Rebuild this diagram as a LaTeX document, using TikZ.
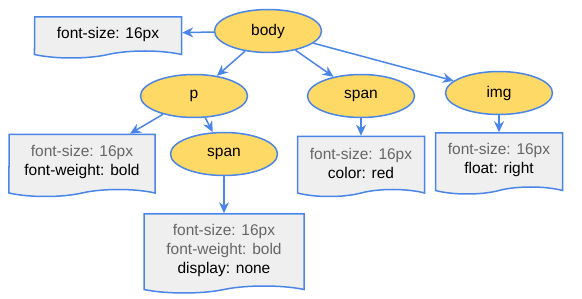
\documentclass[tikz,border=0pt]{standalone}
\usepackage{fontspec}
\setmainfont{Liberation Sans}
\usepackage{xcolor}
\definecolor{tagblue}{HTML}{4A86E8}
\definecolor{tagyellow}{HTML}{FFD966}
\definecolor{docgray}{HTML}{EFEFEF}
\definecolor{inhgray}{HTML}{666666}
\usetikzlibrary{shapes.geometric, shapes.symbols, arrows.meta}
\tikzset{
  tagnode/.style={
    ellipse, draw=tagblue, fill=tagyellow, line width=1.5pt,
    minimum width=107pt, minimum height=43pt, inner sep=0pt,
    font=\fontsize{15.5}{19}\selectfont
  },
  docnode/.style={
    tape, tape bend top=none, tape bend height=7pt,
    draw=tagblue, fill=docgray, line width=1.5pt,
    align=center, inner sep=0pt,
    font=\fontsize{15.5}{19}\selectfont
  },
  arrow/.style={line width=1.5pt, -{Stealth[length=11pt,width=10pt]}, color=tagblue},
}
\newcommand{\inh}[1]{\textcolor{inhgray}{#1}}

\begin{document}
\begin{tikzpicture}[x=1pt, y=-1pt]
  \useasboundingbox (0,0) rectangle (582,299);
  \node (body)    [tagnode] at (268,31)  {body};
  \node (p)       [tagnode] at (194,96)  {p};
  \node (spanA)   [tagnode] at (361,96)  {span};
  \node (img)     [tagnode] at (499,93)  {img};
  \node (spanB)   [tagnode] at (224,154) {span};

  \node (dbody)   [docnode, minimum width=147pt, minimum height=41pt] at (108,34)
    {font-size: 16px};
  \node (dp)      [docnode, minimum width=146pt, minimum height=62pt] at (82,162)
    {\inh{font-size: 16px}\\font-weight: bold};
  \node (dspanA)  [docnode, minimum width=127pt, minimum height=60pt] at (361,163)
    {\inh{font-size: 16px}\\color: red};
  \node (dimg)    [docnode, minimum width=127pt, minimum height=61pt] at (499,160)
    {\inh{font-size: 16px}\\float: right};
  \node (dspanB)  [docnode, minimum width=160pt, minimum height=79pt] at (224,250)
    {\inh{font-size: 16px}\\\inh{font-weight: bold}\\display: none};

  \draw [arrow] (body)  -- (dbody);
  \draw [arrow] (body)  -- (p);
  \draw [arrow] (body)  -- (spanA);
  \draw [arrow] (body)  -- (img);
  \draw [arrow] (p)     -- (dp);
  \draw [arrow] (p)     -- (spanB);
  \draw [arrow] (spanB) -- (dspanB);
  \draw [arrow] (spanA) -- (dspanA);
  \draw [arrow] (img)   -- (dimg);
\end{tikzpicture}
\end{document}
